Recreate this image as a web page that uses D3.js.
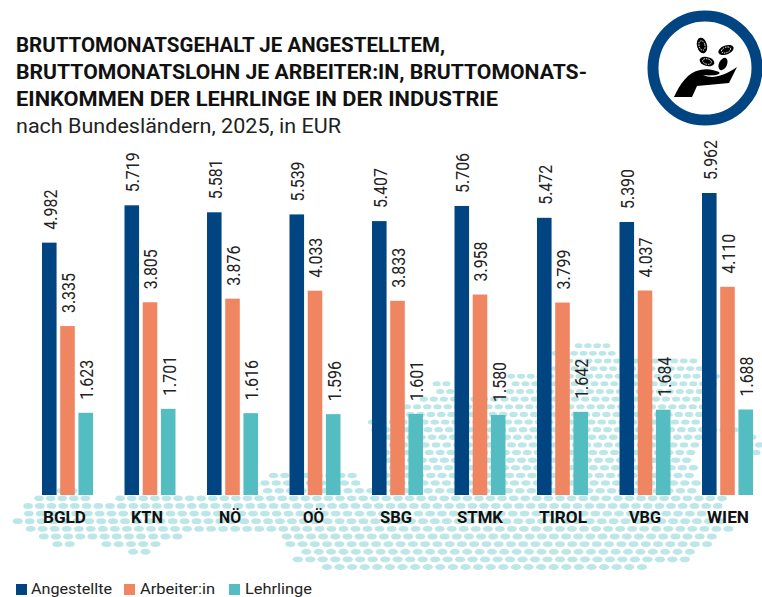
<!DOCTYPE html>
<html><head><meta charset="utf-8">
<script src="https://cdn.jsdelivr.net/npm/d3@7"></script>
<style>html,body{margin:0;padding:0;background:#fff;overflow:hidden}svg{display:block;font-family:Roboto,sans-serif}</style>
</head><body><svg id="c" width="762" height="597"></svg>
<script>
const categories=["BGLD","KTN","NÖ","OÖ","SBG","STMK","TIROL","VBG","WIEN"];
const seriesNames=["Angestellte","Arbeiter:in","Lehrlinge"];
const angestellte=[4982,5719,5581,5539,5407,5706,5472,5390,5962];
const arbeiter=[3335,3805,3876,4033,3833,3958,3799,4037,4110];
const lehrlinge=[1623,1701,1616,1596,1601,1580,1642,1684,1688];
const seriesColors=["#004481","#F08562","#54BDC2"];
const titleLines=["BRUTTOMONATSGEHALT JE ANGESTELLTEM,","BRUTTOMONATSLOHN JE ARBEITER:IN, BRUTTOMONATS-","EINKOMMEN DER LEHRLINGE IN DER INDUSTRIE"];
const subtitle="nach Bundesländern, 2025, in EUR";
const mapRows=[[0,573,608],[1,555,618],[2,553,637],[2,653,695],[3,550,718],[4,510,718],
[5,432,450],[5,507,713],[6,432,452],[6,503,707],[7,420,707],[8,405,707],[9,390,710],[10,368,708],
[11,367,737],[11,757,762],[12,385,700],[12,745,762],[13,385,700],[13,752,762],[14,385,697],[14,755,762],[15,385,697],[15,758,762],[16,305,323],[16,385,697],[17,268,290],[17,305,355],[17,385,697],
[18,53,58],[18,147,160],[18,257,367],[18,360,365],[18,385,697],[19,50,78],[19,265,695],
[20,30,87],[20,112,725],[21,25,723],[22,20,713],[23,17,725],[24,23,733],[25,43,187],[25,277,723],
[26,52,73],[26,102,160],[26,287,713],[27,122,157],[27,297,692],[28,295,693],[29,318,645]];

const svg=d3.select("#c");
const ink="#111";
const rowY=d3.scaleLinear().domain([0,29]).range([345.7,567]);
const rowStep=d3.scaleLinear().domain([0,29]).range([9.3,12.6]);
const mapCentre=560;
const map=svg.append("g").attr("fill","#BCE6E8");
mapRows.forEach(([k,x0,x1])=>{
  const s=rowStep(k), off=k%2?s/2:0;
  const first=Math.ceil((x0-mapCentre-off)/s);
  d3.range(first,Math.floor((x1-mapCentre-off)/s)+1).forEach(i=>{
    map.append("ellipse").attr("cx",mapCentre+i*s+off).attr("cy",rowY(k)).attr("rx",s*0.41).attr("ry",2.4+0.6*k/29);
  });
});

const x=d3.scaleBand().domain(categories).range([42,42+82.5*9]);
const inner=d3.scaleBand().domain(seriesNames).range([0,51]).paddingInner(0.2);
const y=d3.scaleLinear().domain([0,5962]).range([495,193]);
const seriesValues=[angestellte,arbeiter,lehrlinge];
const fmt=d3.format(",");
function fit(sel,w){return sel.attr("textLength",w).attr("lengthAdjust","spacingAndGlyphs");}
seriesNames.forEach((s,si)=>{
  const g=svg.append("g");
  g.selectAll("rect").data(categories).join("rect")
   .attr("x",c=>x(c)+inner(s)).attr("width",inner.bandwidth())
   .attr("y",(c,i)=>y(seriesValues[si][i])).attr("height",(c,i)=>y(0)-y(seriesValues[si][i]))
   .attr("fill",seriesColors[si]);
  g.selectAll("text").data(categories).join("text")
   .attr("transform",(c,i)=>`translate(${x(c)+inner(s)+inner.bandwidth()},${y(seriesValues[si][i])-13}) rotate(-90)`)
   .attr("font-size",17.5).attr("fill","#222").attr("font-weight",400)
   .text((c,i)=>fmt(seriesValues[si][i]).replace(",","."))
   .call(fit,40);
});
const catShift=[-3,-3,-2.5,-1.5,-1.5,0,0.5,0,0.5];
const catW=[43,32,22,21,32,46,48,32,42];
svg.append("g").selectAll("text").data(categories).join("text")
 .attr("x",(c,i)=>x(c)+25.5+catShift[i]).attr("y",523)
 .attr("text-anchor","middle").attr("font-size",17).attr("font-weight",700).attr("fill",ink)
 .text(c=>c).each(function(c,i){d3.select(this).call(fit,catW[i]);});

const tw=[429,571,482];
svg.append("g").selectAll("text").data(titleLines).join("text")
 .attr("x",16).attr("y",(d,i)=>52+i*27).attr("font-size",20.5).attr("font-weight",700).attr("fill",ink)
 .text(d=>d).each(function(d,i){d3.select(this).call(fit,tw[i]);});
svg.append("text").attr("x",16).attr("y",133).attr("font-size",20).attr("fill","#222").text(subtitle).call(fit,325);

// legend
const legX=[16,124,229],legT=[31,140,245],legW=[81,75,67];
seriesNames.forEach((s,i)=>{
  svg.append("rect").attr("x",legX[i]).attr("y",584).attr("width",11).attr("height",11).attr("fill",seriesColors[i]);
  svg.append("text").attr("x",legT[i]).attr("y",593.5).attr("font-size",15).attr("fill","#222").text(s).call(fit,legW[i]);
});

// icon
const ic=svg.append("g");
ic.append("circle").attr("cx",705).attr("cy",68).attr("r",52).attr("fill","#fff").attr("stroke","#004481").attr("stroke-width",11);
ic.append("path").attr("fill","#000").attr("d","M674 97C680 84 688 72 700 70C708 68 714 70 719 72C722 75 712 76 703 75C712 79 722 77 737 67L729 83L697 86L692 97Z");
[[702,45.5,5,8,-15],[726,50,8,4.5,-20],[707,61.5,7.5,4.5,15],[723,64,4,6.5,25]].forEach(([cx,cy,rx,ry,a],i)=>{
  ic.append("ellipse").attr("cx",cx).attr("cy",cy).attr("rx",rx).attr("ry",ry).attr("transform",`rotate(${a} ${cx} ${cy})`).attr("fill","#000");
  if(i<3) ic.append("ellipse").attr("cx",cx).attr("cy",cy).attr("rx",rx*0.6).attr("ry",ry*0.6).attr("transform",`rotate(${a} ${cx} ${cy})`).attr("fill","none").attr("stroke","#fff").attr("stroke-width",0.9).attr("stroke-dasharray","1.5 1");
});
</script></body></html>
